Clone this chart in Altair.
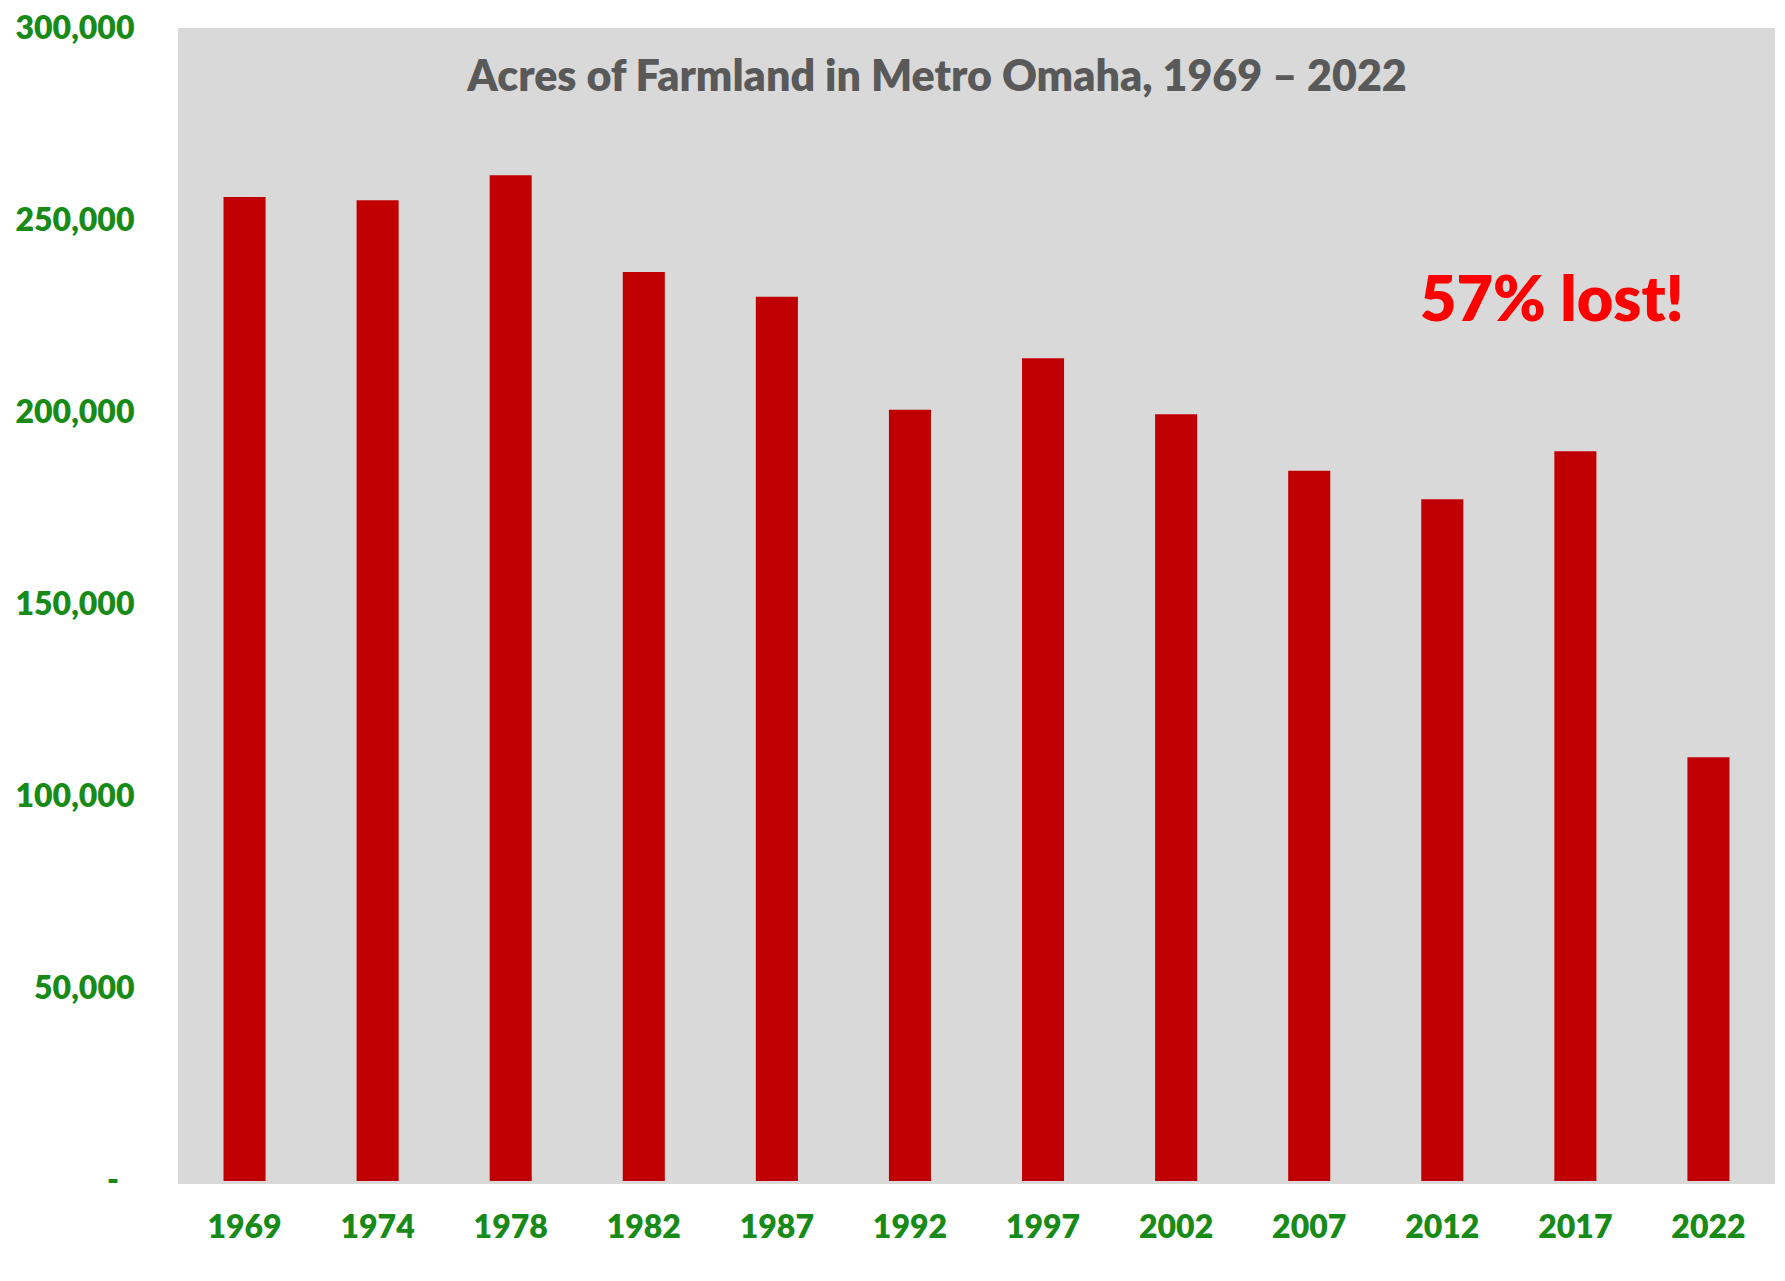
import altair as alt
import pandas as pd

years = ["1969", "1974", "1978", "1982", "1987", "1992", "1997", "2002", "2007", "2012", "2017", "2022"]
acres = [256000, 255200, 261700, 236500, 230100, 200700, 214100, 199500, 184800, 177400, 189900, 110300]
y_ticks = [0, 50000, 100000, 150000, 200000, 250000, 300000]
zero_label = ["-"]
title_text = ["Acres of Farmland in Metro Omaha, 1969 \u2013 2022"]
note_text = ["57% lost!"]

GREEN = "#178A17"
FONT = "Lato"
WEIGHT = 800

df = pd.DataFrame({"year": years, "acres": acres})

label_expr = "datum.value == 0 ? '' : format(datum.value, ',')"

y_scale = alt.Scale(domain=[-750, 300000], nice=False, zero=False)

bars = alt.Chart(df).mark_bar(color="#C00000").encode(
    x=alt.X(
        "year:N",
        sort=years,
        scale=alt.Scale(paddingInner=0.684, paddingOuter=0.342),
        axis=alt.Axis(
            title=None, labelAngle=0, labelColor=GREEN, labelFont=FONT,
            labelFontWeight=WEIGHT, labelFontSize=32, labelPadding=28,
            ticks=False, tickSize=0, domain=False, grid=False,
        ),
    ),
    y=alt.Y(
        "acres:Q",
        scale=y_scale,
        axis=alt.Axis(
            title=None, values=y_ticks, labelExpr=label_expr, labelColor=GREEN,
            labelFont=FONT, labelFontWeight=WEIGHT, labelFontSize=32,
            labelPadding=44, ticks=False, tickSize=0, domain=False, grid=False,
            labelFlush=False, labelOverlap=False,
        ),
    ),
)

zero_df = pd.DataFrame({"t": zero_label, "v": [0]})
zero_text = alt.Chart(zero_df).mark_text(
    font=FONT, fontWeight=WEIGHT, fontSize=32, color=GREEN,
    align="center", baseline="middle",
).encode(text="t:N", y=alt.Y("v:Q", scale=y_scale), x=alt.value(-65))

title = alt.Chart(pd.DataFrame({"t": title_text})).mark_text(
    font=FONT, fontWeight=WEIGHT, fontSize=43, color="#595959",
    align="center", baseline="alphabetic",
).encode(text="t:N", x=alt.value(759), y=alt.value(63))

note = alt.Chart(pd.DataFrame({"t": note_text})).mark_text(
    font=FONT, fontWeight=WEIGHT, fontSize=63, color="#FF0000",
    align="center", baseline="alphabetic",
).encode(text="t:N", x=alt.value(1374), y=alt.value(293))

chart = alt.layer(bars, zero_text, title, note).properties(
    width=1597,
    height=1156,
    autosize=alt.AutoSizeParams(type="none"),
    padding={"left": 170, "top": 20, "right": 0, "bottom": 60},
    background="white",
).configure_view(fill="#D9D9D9", strokeWidth=0)

chart.save("out.html", embed_options={"renderer": "svg", "actions": False})
